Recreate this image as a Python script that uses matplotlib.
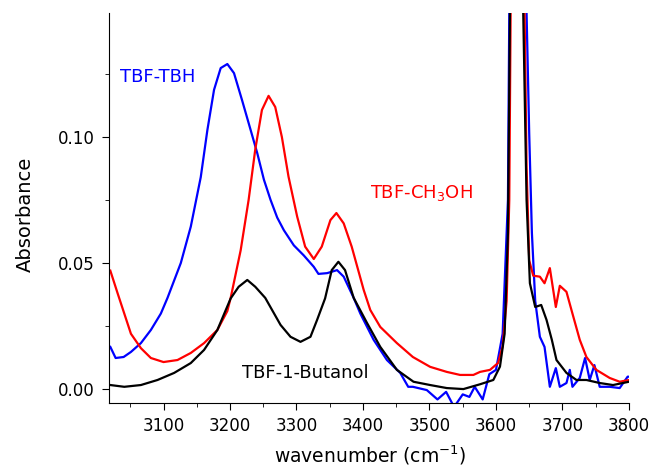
import matplotlib
matplotlib.use("Agg")
import matplotlib.pyplot as plt
from matplotlib.ticker import MultipleLocator, FormatStrFormatter

# TBF-TBH (blue)
tbh_x = [3020, 3028, 3040, 3051, 3066, 3081, 3096, 3106, 3126, 3141, 3156, 3166, 3176, 3186,
         3196, 3206, 3218, 3231, 3241, 3251, 3261, 3271, 3281, 3296, 3311, 3326, 3333, 3346,
         3361, 3371, 3386, 3396, 3416, 3436, 3456, 3468, 3475, 3496, 3512, 3525, 3537, 3550,
         3560, 3568, 3580, 3590, 3600, 3610, 3618, 3620, 3633, 3646, 3650, 3654, 3659, 3666,
         3673, 3681, 3690, 3696, 3706, 3711, 3715, 3726, 3734, 3741, 3748, 3756, 3771, 3786,
         3798, 3800]
tbh_y = [0.0168, 0.0124, 0.0128, 0.0148, 0.0183, 0.0235, 0.030, 0.0362, 0.050, 0.0644,
         0.084, 0.1027, 0.1186, 0.1272, 0.1288, 0.1252, 0.1146, 0.1027, 0.0935, 0.083,
         0.075, 0.068, 0.063, 0.057, 0.053, 0.0485, 0.0457, 0.046, 0.0472, 0.0446, 0.0362,
         0.030, 0.0196, 0.0116, 0.0065, 0.001, 0.001, -0.0003, -0.004, -0.001, -0.007,
         -0.002, -0.003, 0.001, -0.004, 0.006, 0.0077, 0.022, 0.075, 0.149, 0.40, 0.149,
         0.101, 0.062, 0.035, 0.0208, 0.0168, 0.001, 0.0084, 0.001, 0.0025, 0.0077, 0.001,
         0.0045, 0.0124, 0.0037, 0.0096, 0.001, 0.001, 0.0005, 0.005, 0.005]

# TBF-CH3OH (red)
meoh_x = [3020, 3031, 3041, 3051, 3066, 3081, 3100, 3121, 3141, 3161, 3181, 3196, 3201,
          3216, 3228, 3238, 3248, 3258, 3268, 3278, 3288, 3301, 3313, 3326, 3338, 3351,
          3360, 3371, 3383, 3401, 3411, 3426, 3451, 3475, 3501, 3526, 3546, 3566, 3576,
          3591, 3603, 3610, 3616, 3620, 3622, 3633, 3643, 3646, 3650, 3656, 3666, 3673,
          3681, 3690, 3696, 3706, 3715, 3726, 3736, 3751, 3771, 3786, 3800]
meoh_y = [0.047, 0.038, 0.030, 0.022, 0.0163, 0.0124, 0.0108, 0.0116, 0.0144, 0.0183,
          0.0235, 0.031, 0.0362, 0.055, 0.075, 0.095, 0.1106, 0.1162, 0.1118, 0.0999,
          0.0842, 0.0684, 0.0565, 0.0516, 0.0565, 0.067, 0.0698, 0.0657, 0.0565, 0.0394,
          0.0314, 0.0247, 0.0183, 0.0128, 0.0089, 0.0069, 0.0057, 0.0057, 0.0069, 0.0077,
          0.0104, 0.017, 0.035, 0.075, 0.149, 0.40, 0.149, 0.088, 0.051, 0.045, 0.0446,
          0.042, 0.048, 0.0326, 0.041, 0.0386, 0.030, 0.0196, 0.0128, 0.0077, 0.0045,
          0.003, 0.0037]

# TBF-1-Butanol (black)
buoh_x = [3020, 3041, 3066, 3091, 3116, 3141, 3161, 3181, 3201, 3213, 3226, 3238, 3253,
          3276, 3291, 3306, 3321, 3331, 3343, 3353, 3363, 3373, 3386, 3406, 3426, 3451,
          3476, 3501, 3526, 3551, 3576, 3596, 3606, 3613, 3618, 3621, 3632, 3641, 3646,
          3651, 3659, 3668, 3676, 3684, 3691, 3706, 3721, 3736, 3756, 3776, 3800]
buoh_y = [0.0017, 0.001, 0.0017, 0.0037, 0.0065, 0.0104, 0.0156, 0.0235, 0.036, 0.0406,
          0.0433, 0.0406, 0.0362, 0.0255, 0.0208, 0.0188, 0.0208, 0.0275, 0.036, 0.0472,
          0.0505, 0.0472, 0.0362, 0.0263, 0.0168, 0.0077, 0.003, 0.0017, 0.0005, 0.0001,
          0.0020, 0.0037, 0.009, 0.022, 0.062, 0.149, 0.40, 0.149, 0.075, 0.042, 0.0326,
          0.0334, 0.0275, 0.0196, 0.0116, 0.0065, 0.0037, 0.0037, 0.0025, 0.0017, 0.003]

plt.rcParams['font.family'] = ['DejaVu Sans']
fig = plt.figure(figsize=(6.53, 4.73), dpi=100)
ax = fig.add_axes([0.1669, 0.1486, 0.7963, 0.8239])

ax.plot(tbh_x, tbh_y, color='blue', lw=1.6)
ax.plot(meoh_x, meoh_y, color='red', lw=1.6)
ax.plot(buoh_x, buoh_y, color='black', lw=1.6)

ax.set_xlim(3018, 3800)
ax.set_ylim(-0.0053, 0.149)
ax.xaxis.set_major_locator(MultipleLocator(100))
ax.xaxis.set_minor_locator(MultipleLocator(50))
ax.yaxis.set_major_locator(MultipleLocator(0.05))
ax.yaxis.set_minor_locator(MultipleLocator(0.025))
ax.yaxis.set_major_formatter(FormatStrFormatter('%.2f'))
ax.spines['top'].set_visible(False)
ax.spines['right'].set_visible(False)
ax.tick_params(which='major', length=5, labelsize=12, direction='out', pad=5)
ax.tick_params(which='minor', length=3, direction='out')

ax.set_xlabel('wavenumber (cm$^{-1}$)', fontsize=13.5)
ax.xaxis.set_label_coords(0.502, -0.105)
ax.set_ylabel('Absorbance', fontsize=14)
ax.yaxis.set_label_coords(-0.142, 0.482)

ax.text(3091, 0.1236, 'TBF-TBH', color='blue', fontsize=13, ha='center', va='center')
ax.text(3488, 0.0777, 'TBF-CH$_3$OH', color='red', fontsize=13, ha='center', va='center')
ax.text(3314, 0.0065, 'TBF-1-Butanol', color='black', fontsize=13, ha='center', va='center')

fig.savefig('out.png', dpi=100)
